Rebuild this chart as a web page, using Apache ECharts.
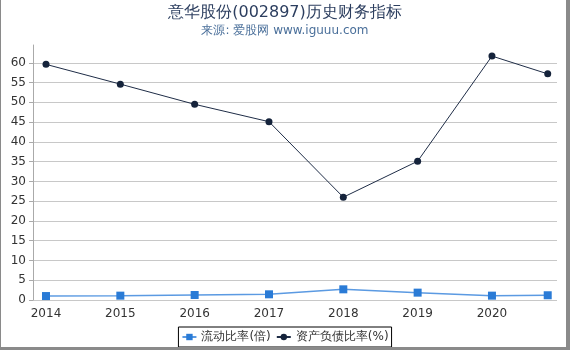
<!DOCTYPE html>
<html><head><meta charset="utf-8">
<script src="https://cdn.jsdelivr.net/npm/echarts@6/dist/echarts.min.js"></script>
<style>
html,body{margin:0;padding:0;background:#fff;}
#wrap{position:absolute;left:0;top:0;width:570px;height:350px;}
#chart{position:absolute;left:0;top:0;width:570px;height:350px;}
#bl{position:absolute;left:0;top:0;width:1px;height:350px;background:#8a8a8a;}
#br{position:absolute;left:566px;top:0;width:4px;height:350px;background:#8a8a8a;}
#bb{position:absolute;left:0;top:347px;width:570px;height:3px;background:#8a8a8a;}
</style></head>
<body>
<div id="wrap"><div id="chart"></div><div id="bl"></div><div id="br"></div><div id="bb"></div></div>
<script>
const titleText = '意华股份(002897)历史财务指标';
const subText = '来源: 爱股网 www.iguuu.com';
const seriesNames = ['流动比率(倍)', '资产负债比率(%)'];
const periods = [2014, 2015, 2016, 2017, 2018, 2019, 2020, 2020.75];
const currentRatio = [1.0, 1.1, 1.27, 1.44, 2.7, 1.86, 1.1, 1.2];
const debtRatio = [59.6, 54.6, 49.5, 45.1, 26.0, 35.1, 61.7, 57.2];

const font = 'DejaVu Sans, sans-serif';
const chart = echarts.init(document.getElementById('chart'), null, {renderer: 'canvas'});
chart.setOption({
  animation: false,
  backgroundColor: '#fff',
  title: {
    text: titleText,
    subtext: subText,
    left: 'center',
    top: 0,
    itemGap: 4,
    textStyle: {fontFamily: font, fontSize: 16, fontWeight: 'normal', color: '#2c3e5f'},
    subtextStyle: {fontFamily: font, fontSize: 12, color: '#4a6f9a'}
  },
  legend: {
    bottom: 3,
    left: 'center',
    data: seriesNames,
    borderColor: '#000',
    borderWidth: 1,
    borderRadius: 0,
    padding: [4, 3],
    itemGap: 5,
    itemWidth: 14,
    itemHeight: 8,
    textStyle: {fontFamily: font, fontSize: 12, color: '#333'}
  },
  grid: {left: 33, right: 13, top: 45, bottom: 50, containLabel: false},
  xAxis: {
    type: 'value',
    min: 2013.825,
    max: 2020.875,
    splitNumber: 7,
    axisLine: {show: false},
    axisTick: {show: false},
    splitLine: {show: false},
    axisLabel: {
      fontFamily: font, fontSize: 12, color: '#333', margin: 8,
      showMinLabel: false, showMaxLabel: false,
      formatter: v => Number.isInteger(v) ? String(v) : ''
    }
  },
  yAxis: {
    type: 'value',
    min: 0,
    max: 64.5,
    interval: 5,
    axisLine: {show: true, lineStyle: {color: '#aaa'}},
    axisTick: {show: true, length: 4, lineStyle: {color: '#aaa'}},
    splitLine: {show: true, showMaxLine: false, lineStyle: {color: '#c8c8c8'}},
    axisLabel: {fontFamily: font, fontSize: 12, color: '#333', margin: 7, showMaxLabel: false}
  },
  series: [
    {
      name: seriesNames[0],
      type: 'line',
      data: periods.map((p, i) => [p, currentRatio[i]]),
      symbol: 'rect',
      symbolSize: 8,
      itemStyle: {color: '#2a7bd6'},
      lineStyle: {color: '#5b9ae2', width: 1.5}
    },
    {
      name: seriesNames[1],
      type: 'line',
      data: periods.map((p, i) => [p, debtRatio[i]]),
      symbol: 'circle',
      symbolSize: 7,
      itemStyle: {color: '#15233b'},
      lineStyle: {color: '#1f2d47', width: 1}
    }
  ]
});
</script>
</body></html>
